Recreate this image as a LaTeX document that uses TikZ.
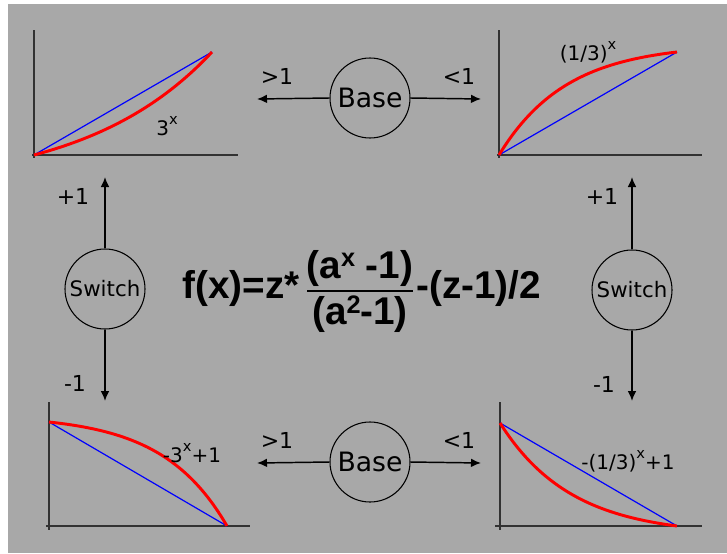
\documentclass[tikz,border=0pt]{standalone}
\usepackage{fontspec}
\usetikzlibrary{arrows.meta}
\setmainfont{DejaVu Sans}
\newfontfamily\formfont{Liberation Sans}
\definecolor{bggray}{RGB}{168,168,168}
\definecolor{axisgray}{RGB}{50,50,50}
\newcommand{\supx}[2][11]{\raisebox{0.55em}{\fontsize{#1}{#1}\selectfont #2}}
\newcommand{\supbig}[1]{\raisebox{0.3em}{\fontsize{19}{19}\selectfont #1}}
\tikzset{
  choice/.style={circle,draw,line width=0.8pt,minimum size=60pt,inner sep=0pt},
  lbl/.style={font=\fontsize{15}{17}\selectfont,inner sep=0pt},
  sel/.style={font=\fontsize{16.5}{18}\selectfont,inner sep=0pt},
  axis/.style={axisgray,line width=1.6pt},
  lin/.style={blue,line width=0.9pt},
  curve/.style={red,line width=2.2pt},
  formula/.style={font=\formfont\bfseries\fontsize{29}{32}\selectfont,inner sep=0pt},
}
\begin{document}
\begin{tikzpicture}[>={Latex[length=7.5pt,width=6.5pt]},x=0.75pt,y=-0.75pt]
  % background
  \fill[white] (0,0) rectangle (727,553);
  \fill[bggray] (8,4) rectangle (727,553);

  % the four plots
  \draw[axis] (34,30) -- (34,158);
  \draw[axis] (32,155) -- (238,155);
  \draw[lin] (34,155) -- (212,52);
  \draw[curve] plot[domain=0:1,samples=40,smooth]
    ({34+178*\x},{155-103*(exp(\x*ln(4))-1)/3});
  \node[lbl] (ltopl) at (167,126) {3\supx{x}};

  \draw[axis] (499,30) -- (499,158);
  \draw[axis] (497,155) -- (702,155);
  \draw[lin] (499,155) -- (677,52);
  \draw[curve] plot[domain=0:1,samples=40,smooth]
    ({499+178*\x},{155-103*(1-exp(-\x*ln(14)))/(1-1/14)});
  \node[lbl] (ltopr) at (588,52) {(1/3)\supx{x}};

  \draw[axis] (49,402) -- (49,530);
  \draw[axis] (46,526) -- (250,526);
  \draw[lin] (49,422) -- (227,526);
  \draw[curve] plot[domain=0:1,samples=40,smooth]
    ({49+178*\x},{422+104*(exp(\x*ln(16))-1)/15});
  \node[lbl] (lbotl) at (192,453) {-3\supx{x}+1};

  \draw[axis] (500,402) -- (500,530);
  \draw[axis] (495,526) -- (702,526);
  \draw[lin] (500,423) -- (677,526);
  \draw[curve] plot[domain=0:1,samples=40,smooth]
    ({500+177*\x},{423+103*(1-exp(-\x*ln(12)))/(1-1/12)});
  \node[lbl] (lbotr) at (628,461) {-(1/3)\supx{x}+1};

  % base choices
  \node[choice,font=\fontsize{20}{22}\selectfont] (btop) at (370,98) {Base};
  \coordinate (btopl) at (257,99);
  \coordinate (btopr) at (481,99);
  \draw[->,line width=1.1pt] (btop.west) -- (btopl);
  \draw[->,line width=1.1pt] (btop.east) -- (btopr);
  \node[sel] at (277,76) {>1};
  \node[sel] at (459,76) {<1};

  \node[choice,font=\fontsize{20}{22}\selectfont] (bbot) at (370,462) {Base};
  \coordinate (bbotl) at (257,463);
  \coordinate (bbotr) at (481,463);
  \draw[->,line width=1.1pt] (bbot.west) -- (bbotl);
  \draw[->,line width=1.1pt] (bbot.east) -- (bbotr);
  \node[sel] at (277,440) {>1};
  \node[sel] at (459,440) {<1};

  % switch choices
  \node[choice,font=\fontsize{16}{18}\selectfont] (swl) at (105,289) {Switch};
  \coordinate (swlu) at (105,177);
  \coordinate (swld) at (105,401);
  \draw[->,line width=1.1pt] (swl.north) -- (swlu);
  \draw[->,line width=1.1pt] (swl.south) -- (swld);
  \node[sel] at (73,196) {+1};
  \node[sel] at (75,383) {-1};

  \node[choice,font=\fontsize{16}{18}\selectfont] (swr) at (632,290) {Switch};
  \coordinate (swru) at (632,177);
  \coordinate (swrd) at (632,401);
  \draw[->,line width=1.1pt] (swr.north) -- (swru);
  \draw[->,line width=1.1pt] (swr.south) -- (swrd);
  \node[sel] at (602,196) {+1};
  \node[sel] at (604,384) {-1};

  % formula
  \node[formula,anchor=east] (lhs) at (300,288) {f(x)=z*};
  \node[formula] (num) at (360,268) {(a\supbig{x} -1)};
  \node[formula] (den) at (360,314) {(a\supbig{2}-1)};
  \draw[line width=2.2pt] (307,291) -- (413,291);
  \node[formula,anchor=west] (rhs) at (416,288) {-(z-1)/2};
\end{tikzpicture}
\end{document}
